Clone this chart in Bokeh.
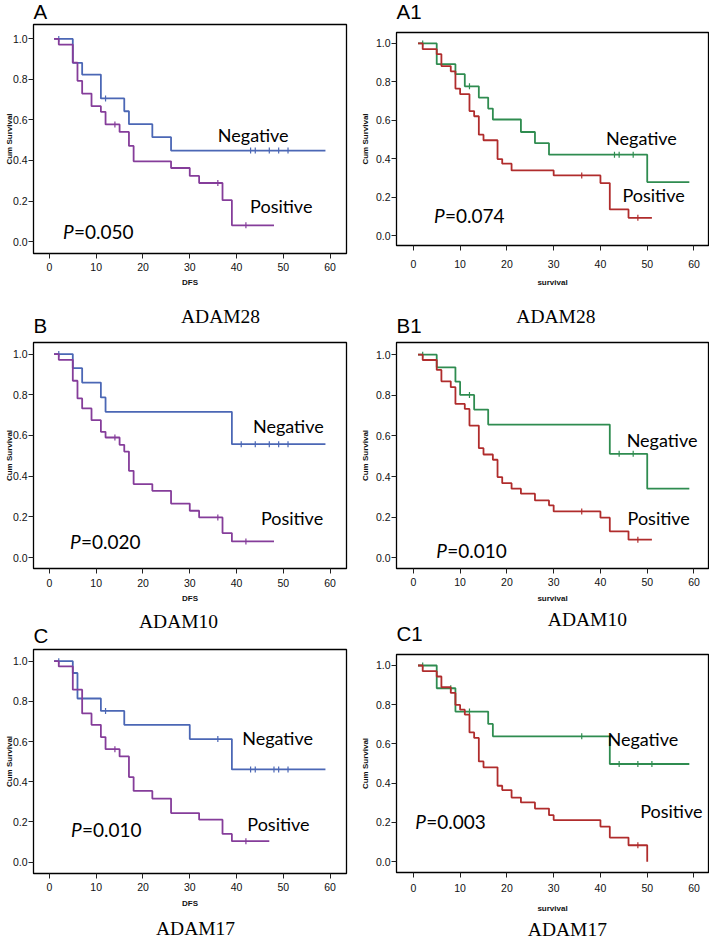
import numpy as np
from bokeh.plotting import figure
from bokeh.layouts import row, column
from bokeh.models import Label, FixedTicker
from bokeh.embed import file_html
from bokeh.resources import INLINE

# ---------------- data ----------------
X_TICKS = [0, 10, 20, 30, 40, 50, 60]
Y_TICKS = [0.0, 0.2, 0.4, 0.6, 0.8, 1.0]
Y_TICK_LABELS = ["0.0", "0.2", "0.4", "0.6", "0.8", "1.0"]
GROUPS = ["Negative", "Positive"]

# Panel A (DFS, ADAM28)
A_NEG_T = [5, 7, 11, 16, 17, 22, 26]
A_NEG_S = [0.882, 0.824, 0.706, 0.643, 0.579, 0.515, 0.449]
A_NEG_END = 59
A_NEG_CENS = [2, 12, 43, 44, 47, 49, 51]
A_POS_T = [2, 5, 6, 7, 9, 11, 12, 15, 17, 18, 26, 30, 32, 37, 39]
A_POS_S = [0.972, 0.883, 0.793, 0.73, 0.668, 0.64, 0.578, 0.541, 0.472, 0.396, 0.363, 0.324, 0.289, 0.204, 0.08]
A_POS_END = 48
A_POS_CENS = [14, 36, 42]

# Panel A1 (survival, ADAM28)
A1_NEG_T = [5, 9, 11, 14, 16, 17, 23, 26, 29, 50]
A1_NEG_S = [0.892, 0.84, 0.777, 0.718, 0.661, 0.604, 0.539, 0.481, 0.421, 0.278]
A1_NEG_END = 59
A1_NEG_CENS = [2, 12, 43, 44, 47]
A1_POS_T = [2, 5, 6, 8, 9, 10, 12, 13, 14, 15, 18, 19, 21, 30, 40, 42, 46]
A1_POS_S = [0.970, 0.944, 0.882, 0.855, 0.765, 0.736, 0.648, 0.621, 0.525, 0.496, 0.398, 0.374, 0.339, 0.313, 0.273, 0.136, 0.092]
A1_POS_END = 51
A1_POS_CENS = [36, 48]

# Panel B (DFS, ADAM10)
B_NEG_T = [5, 7, 11, 12, 39]
B_NEG_S = [0.931, 0.860, 0.787, 0.716, 0.557]
B_NEG_END = 59
B_NEG_CENS = [2, 41, 44, 47, 49, 51]
B_POS_T = [2, 5, 6, 7, 9, 11, 12, 15, 16, 17, 18, 22, 26, 30, 32, 37, 39]
B_POS_S = [0.972, 0.869, 0.782, 0.733, 0.675, 0.618, 0.590, 0.554, 0.521, 0.426, 0.361, 0.328, 0.265, 0.23, 0.197, 0.12, 0.079]
B_POS_END = 48
B_POS_CENS = [14, 36, 42]

# Panel B1 (survival, ADAM10)
B1_NEG_T = [5, 9, 10, 13, 16, 42, 50]
B1_NEG_S = [0.938, 0.867, 0.802, 0.73, 0.656, 0.512, 0.341]
B1_NEG_END = 59
B1_NEG_CENS = [2, 12, 44, 47]
B1_POS_T = [2, 5, 6, 8, 9, 11, 12, 14, 15, 17, 18, 19, 21, 23, 26, 29, 30, 40, 42, 46]
B1_POS_S = [0.974, 0.925, 0.869, 0.84, 0.758, 0.733, 0.651, 0.54, 0.509, 0.483, 0.398, 0.368, 0.341, 0.316, 0.283, 0.259, 0.229, 0.198, 0.131, 0.09]
B1_POS_END = 51
B1_POS_CENS = [36, 48]

# Panel C (DFS, ADAM17)
C_NEG_T = [5, 6, 11, 16, 30, 39]
C_NEG_S = [0.941, 0.814, 0.752, 0.683, 0.612, 0.461]
C_NEG_END = 59
C_NEG_CENS = [2, 12, 36, 43, 44, 48, 49, 51]
C_POS_T = [2, 5, 7, 9, 11, 12, 15, 17, 18, 22, 26, 32, 37, 39]
C_POS_S = [0.974, 0.858, 0.74, 0.683, 0.622, 0.562, 0.526, 0.423, 0.354, 0.316, 0.244, 0.211, 0.14, 0.104]
C_POS_END = 47
C_POS_CENS = [14, 42]

# Panel C1 (survival, ADAM17)
C1_NEG_T = [5, 9, 16, 17, 42]
C1_NEG_S = [0.884, 0.765, 0.702, 0.639, 0.498]
C1_NEG_END = 59
C1_NEG_CENS = [2, 8, 12, 36, 44, 48, 51]
C1_POS_T = [2, 5, 6, 8, 9, 10, 11, 12, 13, 14, 15, 18, 19, 21, 23, 26, 29, 30, 40, 42, 46, 50]
C1_POS_S = [0.971, 0.944, 0.889, 0.86, 0.799, 0.775, 0.75, 0.659, 0.631, 0.511, 0.481, 0.387, 0.365, 0.327, 0.302, 0.271, 0.237, 0.212, 0.179, 0.123, 0.084, 0.0]
C1_POS_END = 50
C1_POS_CENS = [48]

P_TEXTS = {"A": "=0.050", "A1": "=0.074", "B": "=0.020", "B1": "=0.010", "C": "=0.010", "C1": "=0.003"}
GENES = {"A": "ADAM28", "B": "ADAM10", "C": "ADAM17"}

# ---------------- styles / layout ----------------
BLUE, PURPLE, GREEN, RED = "#4b67b5", "#853d9a", "#2f8c50", "#b02c2c"
TICK_FONT = "Liberation Sans Narrow, Liberation Sans, sans-serif"
AX_FONT = "Liberation Sans"
CURVE_FONT = "Lato"
LETTER_FONT = "Liberation Sans"
CAPTION_FONT = "Liberation Serif"
# labels are anchored at the bottom of their text box; lift the baseline by the font descent
LETTER_DESC = 4.3
CAPTION_DESC = 4.2
CURVE_DESC = 3.8
P_DESC = 4.0

WL, WR = 350, 359

PANELS = [
    dict(key="A", xlabel="DFS", colors=(BLUE, PURPLE), w=WL, h=295,
         bl=33, br=4, bt=24, bb=42, xr=(-3.4, 63.5), yr=(-0.059, 1.071),
         neg=(A_NEG_T, A_NEG_S, A_NEG_END, A_NEG_CENS), pos=(A_POS_T, A_POS_S, A_POS_END, A_POS_CENS),
         neg_xy=(36.0, 0.49), pos_xy=(42.9, 0.138), p_xy=(2.9, 0.015),
         letter_off=6.3, xstand=4, xlstand=4, ylstand=-4, above=None, below=None),
    dict(key="B", xlabel="DFS", colors=(BLUE, PURPLE), w=WL, h=310,
         bl=33, br=4, bt=47, bb=37, xr=(-3.4, 63.5), yr=(-0.054, 1.057),
         neg=(B_NEG_T, B_NEG_S, B_NEG_END, B_NEG_CENS), pos=(B_POS_T, B_POS_S, B_POS_END, B_POS_CENS),
         neg_xy=(43.5, 0.61), pos_xy=(45.2, 0.161), p_xy=(4.4, 0.044),
         letter_off=9.7, xstand=5, xlstand=4, ylstand=-4, above=("A", 147.5, 20.2), below=None),
    dict(key="C", xlabel="DFS", colors=(BLUE, PURPLE), w=WL, h=335,
         bl=33, br=4, bt=42, bb=67, xr=(-3.4, 63.5), yr=(-0.057, 1.058),
         neg=(C_NEG_T, C_NEG_S, C_NEG_END, C_NEG_CENS), pos=(C_POS_T, C_POS_S, C_POS_END, C_POS_CENS),
         neg_xy=(41.2, 0.584), pos_xy=(42.3, 0.156), p_xy=(4.6, 0.123),
         letter_off=7.3, xstand=4, xlstand=5, ylstand=-4, above=("B", 105.5, 21.8), below=("C", 122.5, 61.7)),
    dict(key="A1", xlabel="survival", colors=(GREEN, RED), w=WR, h=295,
         bl=46, br=1, bt=32, bb=50, xr=(-3.6, 63.1), yr=(-0.052, 1.057),
         neg=(A1_NEG_T, A1_NEG_S, A1_NEG_END, A1_NEG_CENS), pos=(A1_POS_T, A1_POS_S, A1_POS_END, A1_POS_CENS),
         neg_xy=(41.2, 0.469), pos_xy=(44.7, 0.174), p_xy=(4.4, 0.064),
         letter_off=14.3, xstand=9, xlstand=7, ylstand=3, above=None, below=None),
    dict(key="B1", xlabel="survival", colors=(GREEN, RED), w=WR, h=310,
         bl=46, br=1, bt=47, bb=36, xr=(-3.6, 63.1), yr=(-0.052, 1.060),
         neg=(B1_NEG_T, B1_NEG_S, B1_NEG_END, B1_NEG_CENS), pos=(B1_POS_T, B1_POS_S, B1_POS_END, B1_POS_CENS),
         neg_xy=(45.6, 0.545), pos_xy=(45.8, 0.16), p_xy=(4.9, 0.0),
         letter_off=9.7, xstand=4, xlstand=5, ylstand=3, above=("A", 119.8, 20.2), below=None),
    dict(key="C1", xlabel="survival", colors=(GREEN, RED), w=WR, h=335,
         bl=46, br=1, bt=49, bb=68, xr=(-3.6, 63.1), yr=(-0.055, 1.056),
         neg=(C1_NEG_T, C1_NEG_S, C1_NEG_END, C1_NEG_CENS), pos=(C1_POS_T, C1_POS_S, C1_POS_END, C1_POS_CENS),
         neg_xy=(41.5, 0.588), pos_xy=(48.5, 0.222), p_xy=(0.4, 0.166),
         letter_off=14, xstand=6, xlstand=9, ylstand=3, above=("B", 151.3, 28.5), below=("C", 131.3, 63.3)),
]


def km_xy(t, s, end, start=1):
    xs = [start] + list(t) + [end]
    ys = [1.0] + list(s) + [s[-1]]
    return xs, ys


def cens_y(t, s, c):
    idx = np.searchsorted(np.asarray(t), np.asarray(c), side="right")
    return [1.0 if i == 0 else s[i - 1] for i in idx]


def make_panel(cfg):
    p = figure(width=cfg["w"], height=cfg["h"], x_range=cfg["xr"], y_range=cfg["yr"],
               output_backend="svg", toolbar_location=None, title=None,
               min_border_left=cfg["bl"], min_border_right=cfg["br"],
               min_border_top=cfg["bt"], min_border_bottom=cfg["bb"])
    p.xgrid.visible = False
    p.ygrid.visible = False
    p.outline_line_color = "black"
    p.outline_line_width = 1.3
    p.outline_line_alpha = 1.0
    p.background_fill_color = "white"
    p.border_fill_color = "white"

    p.xaxis.ticker = FixedTicker(ticks=X_TICKS)
    p.yaxis.ticker = FixedTicker(ticks=Y_TICKS)
    p.yaxis.major_label_overrides = {t: lab for t, lab in zip(Y_TICKS, Y_TICK_LABELS)}
    p.xaxis.axis_label = cfg["xlabel"]
    p.yaxis.axis_label = "Cum Survival"
    for ax in (p.xaxis[0], p.yaxis[0]):
        ax.major_tick_in = 0
        ax.major_tick_out = 5
        ax.major_tick_line_color = "#222222"
        ax.minor_tick_line_color = None
        ax.axis_line_color = "black"
        ax.major_label_text_font = TICK_FONT
        ax.major_label_text_font_size = "10.5px"
        ax.major_label_text_color = "#111111"
        ax.axis_label_text_font = AX_FONT
        ax.axis_label_text_font_style = "bold"
        ax.axis_label_text_font_size = "8px"
        ax.axis_label_text_color = "#111111"
    p.xaxis.major_label_standoff = cfg["xstand"]
    p.xaxis.axis_label_standoff = cfg["xlstand"]
    p.yaxis.major_label_standoff = 1
    p.yaxis.axis_label_standoff = cfg["ylstand"]

    for (t, s, end, cens), col in zip((cfg["neg"], cfg["pos"]), cfg["colors"]):
        xs, ys = km_xy(t, s, end)
        p.step(xs, ys, mode="after", line_color=col, line_width=1.8)
        p.scatter(cens, cens_y(t, s, cens), marker="dash", angle=np.pi / 2, size=6,
                  line_color=col, line_width=1.2)

    # group labels and p value (xy = baseline position)
    for name, xy in zip(GROUPS, (cfg["neg_xy"], cfg["pos_xy"])):
        p.add_layout(Label(x=xy[0], y=xy[1], y_offset=-CURVE_DESC, text=name, text_font=CURVE_FONT,
                           text_font_size="18px", text_color="black"))
    p.add_layout(Label(x=cfg["p_xy"][0], y=cfg["p_xy"][1], y_offset=-P_DESC, text="P",
                       text_font=CURVE_FONT, text_font_style="italic", text_font_size="19px",
                       text_color="black"))
    p.add_layout(Label(x=cfg["p_xy"][0], y=cfg["p_xy"][1], x_offset=11, y_offset=-P_DESC,
                       text=P_TEXTS[cfg["key"]], text_font=CURVE_FONT, text_font_size="19px",
                       text_color="black"))

    # panel letter and gene captions outside the frame (side panels are not clipped)
    x0, x1 = cfg["xr"]
    y0, y1 = cfg["yr"]
    p.add_layout(Label(x=x0, y=y1, y_offset=cfg["letter_off"] - LETTER_DESC, text=cfg["key"],
                       text_font=LETTER_FONT, text_font_size="20.5px", text_color="black"), "above")
    if cfg["above"] is not None:
        g, xo, yo = cfg["above"]
        p.add_layout(Label(x=x0, y=y1, x_offset=xo, y_offset=yo - CAPTION_DESC, text=GENES[g],
                           text_font=CAPTION_FONT, text_font_size="19.5px", text_color="black"), "above")
    if cfg["below"] is not None:
        g, xo, yo = cfg["below"]
        p.add_layout(Label(x=x0, y=y0, x_offset=xo, y_offset=-(yo + CAPTION_DESC), text=GENES[g],
                           text_font=CAPTION_FONT, text_font_size="19.5px", text_color="black"), "below")
    return p


figs = {c["key"]: make_panel(c) for c in PANELS}
layout = row(column(figs["A"], figs["B"], figs["C"]), column(figs["A1"], figs["B1"], figs["C1"]))

open("out.html", "w").write(file_html(layout, INLINE))
